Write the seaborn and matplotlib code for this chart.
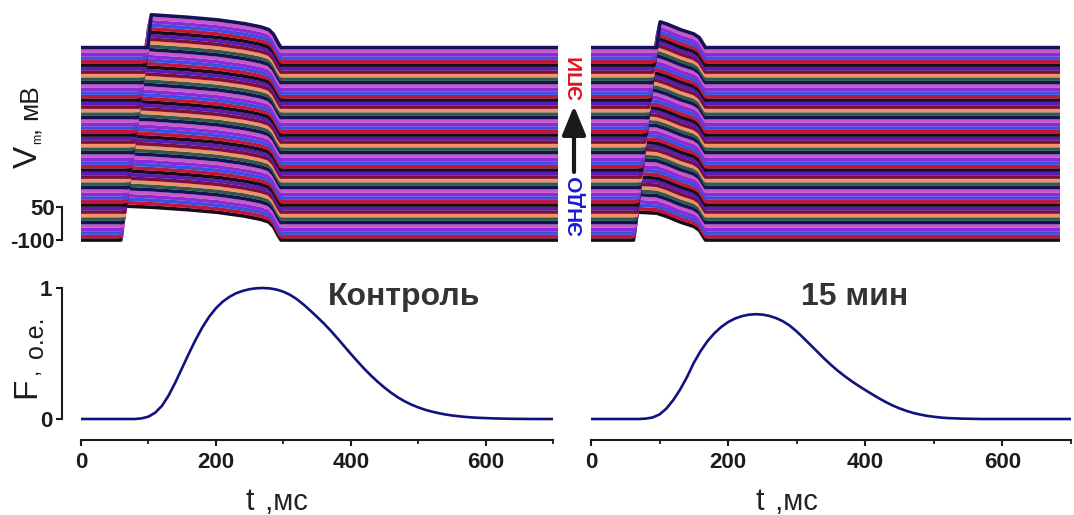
import numpy as np
import pandas as pd
import matplotlib
matplotlib.use("Agg")
import matplotlib.pyplot as plt
import seaborn as sns

sns.set_theme(style="white")
plt.rcParams['font.family'] = ['Liberation Sans', 'DejaVu Sans']

# ---------------------------------------------------------------- data
# normalised optical signal F, sampled every 10 ms (0..700 ms)
t_f = list(range(0, 701, 10))
f_control = [0, 0, 0, 0, 0, 0, 0, 0, 0, 0.005,
             0.018, 0.048, 0.10, 0.18, 0.28, 0.39, 0.50, 0.605, 0.70, 0.78,
             0.845, 0.895, 0.932, 0.96, 0.978, 0.991, 0.998, 1.0, 0.997, 0.988,
             0.972, 0.948, 0.915, 0.874, 0.828, 0.78, 0.73, 0.676, 0.618, 0.558,
             0.498, 0.44, 0.384, 0.332, 0.284, 0.24, 0.2, 0.165, 0.135, 0.11,
             0.089, 0.071, 0.057, 0.045, 0.035, 0.027, 0.021, 0.016, 0.012, 0.009,
             0.007, 0.005, 0.0035, 0.0025, 0.0015, 0.001, 0.0005, 0, 0, 0,
             0]
f_15min = [0, 0, 0, 0, 0, 0, 0, 0, 0.003, 0.012,
           0.035, 0.08, 0.145, 0.225, 0.32, 0.43, 0.52, 0.595, 0.655, 0.703,
           0.74, 0.767, 0.785, 0.796, 0.80, 0.797, 0.787, 0.77, 0.746, 0.712,
           0.668, 0.618, 0.566, 0.514, 0.462, 0.413, 0.368, 0.327, 0.289, 0.254,
           0.221, 0.189, 0.158, 0.129, 0.103, 0.081, 0.062, 0.046, 0.034, 0.024,
           0.017, 0.011, 0.007, 0.005, 0.003, 0.002, 0.001, 0, 0, 0,
           0, 0, 0, 0, 0, 0, 0, 0, 0, 0,
           0]

# activation time of every trace, endocardium (first) to epicardium (last), ms
act_control = [59, 60, 60, 61, 62, 62, 63, 64, 65, 65, 66, 67, 67, 68,
               69, 70, 70, 71, 72, 72, 73, 74, 75, 75, 76, 77, 77, 78,
               79, 80, 80, 81, 82, 82, 83, 84, 85, 85, 86, 87, 87, 88,
               89, 90, 90, 91, 92, 92, 93, 94, 95, 95, 96, 97, 98, 99]
act_15min = [62, 63, 63, 64, 64, 65, 65, 66, 67, 67, 68, 68, 69, 70,
             70, 71, 71, 72, 72, 73, 74, 74, 75, 75, 76, 77, 77, 78,
             78, 79, 80, 80, 81, 81, 82, 83, 83, 84, 84, 85, 86, 86,
             87, 87, 88, 89, 89, 90, 90, 91, 92, 92, 93, 94, 95, 96]

rest_mv = -100
peak_control = 55
peak_15min = 28
trace_step_mv = 15.9
# plateau / repolarisation envelope in absolute time (ms, mV)
env_control_t = [0, 60, 100, 150, 200, 240, 265, 278, 285, 291, 296, 706]
env_control_v = [55, 55, 50, 40, 27, 10, -5, -18, -40, -75, -100, -100]
env_15min_t = [0, 62, 96, 110, 130, 150, 158, 163, 167, 684]
env_15min_v = [28, 28, 22, 8, -18, -38, -55, -80, -100, -100]

panel_titles = ["Контроль", "15 мин"]
trace_colors = ["#180c1c", "#c4163a", "#3a50e0", "#8a2ad8", "#c85ac8",
                "#16125a", "#2f5b4a", "#f0926c", "#7b1038", "#5b1cb4"]
f_color = "#12127e"

W, H = 1074, 515


def box(x0, y0, x1, y1):
    return [x0 / W, 1 - y1 / H, (x1 - x0) / W, (y1 - y0) / H]


def stack_frame(acts, peak, env_t, env_v, t_end):
    t = np.arange(0, t_end + 1, 1.0)
    env = np.interp(t, env_t, env_v)
    parts = []
    for k, ta in enumerate(acts):
        rise = np.interp(t, [ta, ta + 5], [rest_mv, peak])
        v = np.minimum(rise, env) + k * trace_step_mv
        parts.append(pd.DataFrame({"t": t, "v": v, "trace": k}))
    return pd.concat(parts, ignore_index=True)


fig = plt.figure(figsize=(W / 100, H / 100), dpi=100)

ink = "#1c1c1c"
ylim_top = (-118, 954.5)

# ---- action potential stacks
stacks = [
    (box(81, 8, 558, 244), act_control, peak_control, env_control_t, env_control_v, 706),
    (box(591, 8, 1060, 244), act_15min, peak_15min, env_15min_t, env_15min_v, 684),
]
top_axes = []
for pos, acts, pk, et, ev, tend in stacks:
    ax = fig.add_axes(pos)
    df = stack_frame(acts, pk, et, ev, tend)
    pal = [trace_colors[i % len(trace_colors)] for i in range(len(acts))]
    sns.lineplot(data=df, x="t", y="v", hue="trace", palette=pal, legend=False,
                 linewidth=2.6, estimator=None, sort=False, ax=ax)
    ax.set_xlim(0, tend)
    ax.set_ylim(*ylim_top)
    ax.set_xlabel("")
    ax.set_ylabel("")
    for s in ax.spines.values():
        s.set_visible(False)
    ax.set_xticks([])
    ax.set_yticks([])
    top_axes.append(ax)

# voltage scale bar on the left stack
axv = top_axes[0]
axv.spines["left"].set_visible(True)
axv.spines["left"].set_bounds(-100, 50)
axv.spines["left"].set_position(("outward", 13.7))
axv.spines["left"].set_linewidth(1.5)
axv.spines["left"].set_color(ink)
axv.set_yticks([-100, 50])
axv.set_yticklabels(["-100", "50"], fontweight="bold", fontsize=16, color=ink)
axv.tick_params(axis="y", left=True, length=4, width=1.5, color=ink, pad=1)

# ---- optical signals
bottom_axes = []
for pos, fvals, title in [(box(81, 284, 553, 423), f_control, panel_titles[0]),
                          (box(591, 284, 1071, 423), f_15min, panel_titles[1])]:
    ax = fig.add_axes(pos)
    sns.lineplot(x=t_f, y=fvals, color=f_color, linewidth=1.9, ax=ax)
    ax.set_xlim(0, 700)
    ax.set_ylim(-0.0305, 1.0305)
    for s in ax.spines.values():
        s.set_visible(False)
    ax.spines["bottom"].set_visible(True)
    ax.spines["bottom"].set_bounds(0, 700)
    ax.spines["bottom"].set_position(("outward", 12.2))
    ax.spines["bottom"].set_linewidth(1.5)
    ax.spines["bottom"].set_color(ink)
    ax.set_xticks([0, 200, 400, 600])
    ax.set_xticks([100, 300, 500, 700], minor=True)
    ax.set_xticklabels(["0", "200", "400", "600"], fontweight="bold",
                       fontsize=16, color=ink)
    ax.tick_params(axis="x", which="major", bottom=True, length=4, width=1.5,
                   color=ink, pad=5)
    ax.tick_params(axis="x", which="minor", bottom=True, length=3, width=1.3,
                   color=ink)
    ax.set_yticks([])
    bottom_axes.append(ax)

axf = bottom_axes[0]
axf.spines["left"].set_visible(True)
axf.spines["left"].set_bounds(0, 1)
axf.spines["left"].set_position(("outward", 13.7))
axf.spines["left"].set_linewidth(1.5)
axf.spines["left"].set_color(ink)
axf.set_yticks([0, 1])
axf.set_yticklabels(["0", "1"], fontweight="bold", fontsize=16, color=ink)
axf.tick_params(axis="y", left=True, length=4, width=1.5, color=ink, pad=3)

# ---- annotations in figure pixel space
ov = fig.add_axes([0, 0, 1, 1])
ov.set_xlim(0, W)
ov.set_ylim(H, 0)
ov.axis("off")

rot = dict(rotation=90, rotation_mode="anchor", ha="left", va="baseline")
ov.text(37, 168, "V", fontsize=24, color=ink, **rot)
ov.text(41, 144, "m", fontsize=9, color=ink, **rot)
ov.text(37, 133, ",", fontsize=18, color=ink, **rot)
ov.text(37, 120, "мВ", fontsize=19, color=ink, **rot)

ov.text(35, 398, "F", fontsize=24, color=ink, **rot)
ov.text(37, 374, ",", fontsize=16, color=ink, **rot)
ov.text(43, 358, "о.е.", fontsize=18, color=ink, **rot)

ov.text(328, 305, panel_titles[0], fontsize=23, fontweight="bold", color="#333333")
ov.text(801, 305, panel_titles[1], fontsize=23, fontweight="bold", color="#333333")

for xs in (245, 755):
    ov.text(xs, 510, "t", fontsize=22, color="#222222")
    ov.text(xs + 12, 510, " ,мс", fontsize=21, color="#222222")

ov.text(582, 100, "ЭПИ", fontsize=15, fontweight="bold", color="#e0141e", **rot)
ov.text(582, 236, "ЭНДО", fontsize=15, fontweight="bold", color="#1a1ad2", **rot)
ov.annotate("", xy=(574, 106), xytext=(574, 172),
            arrowprops=dict(arrowstyle="-|>,head_length=0.8,head_width=0.33",
                            lw=3, color="#1a1a1a", mutation_scale=22,
                            shrinkA=0, shrinkB=0))

fig.savefig("out.png", dpi=100)
